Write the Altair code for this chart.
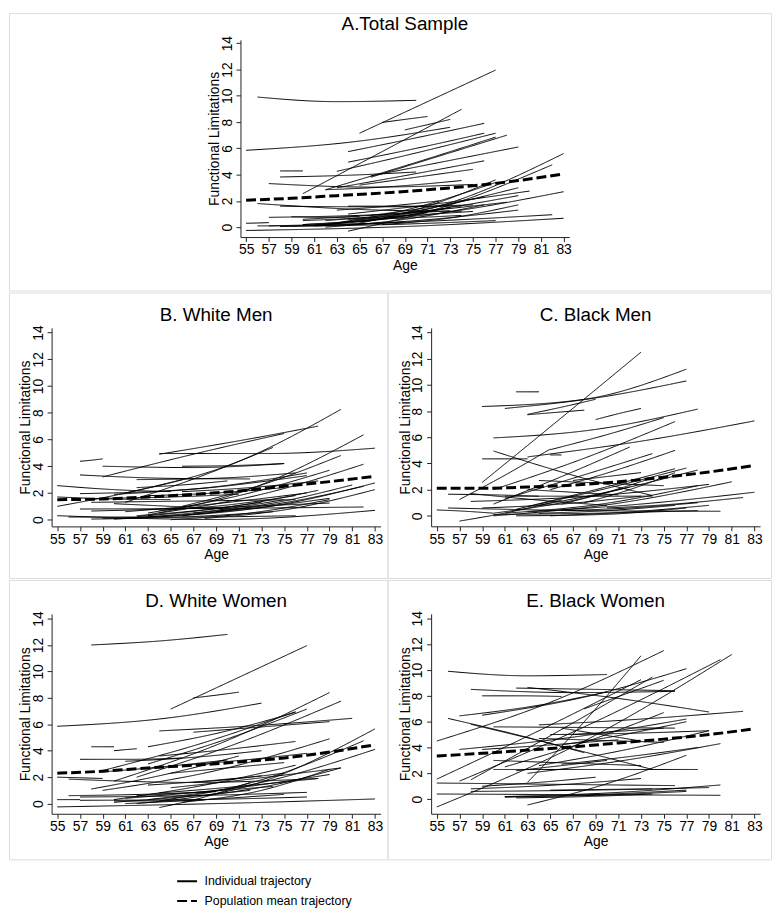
import altair as alt
import pandas as pd

# ---------------- data ----------------
AGE_TICKS = list(range(55, 84, 2))
VALUE_TICKS = list(range(0, 15, 2))
AGE_DOMAIN = [54.5, 83.5]
KINDS = ["Individual trajectory", "Population mean trajectory"]
MEAN_AGES = [55, 59, 63, 67, 71, 75, 79, 83]
TITLE_AGE = 69  # panel titles are centred over the age axis

A_MEAN = [2.05, 2.2, 2.4, 2.6, 2.85, 3.15, 3.55, 4.05]
B_MEAN = [1.5, 1.55, 1.7, 1.9, 2.15, 2.5, 2.85, 3.25]
C_MEAN = [2.1, 2.1, 2.2, 2.35, 2.6, 2.95, 3.35, 3.85]
D_MEAN = [2.3, 2.45, 2.7, 2.9, 3.15, 3.45, 3.9, 4.45]
E_MEAN = [3.35, 3.55, 3.8, 4.05, 4.35, 4.65, 5.0, 5.45]

# individual trajectories: (start age, end age, start value, mid value, end value)
A_TRAJ = [
    (56, 70, 9.9, 9.55, 9.65), (65, 77, 7.15, 9.55, 11.95), (67, 71, 7.97, 8.2, 8.42),
    (60, 74, 2.55, 5.75, 8.97), (69, 73, 7.4, 7.8, 8.2), (55, 73, 5.85, 6.45, 7.6),
    (64, 76, 5.75, 6.8, 7.9), (64, 76, 4.95, 6.0, 7.15), (63, 77, 4.25, 5.65, 7.15),
    (66, 78, 3.8, 5.4, 7.0), (62, 77, 2.85, 4.8, 6.85), (66, 79, 3.9, 5.0, 6.1),
    (63, 76, 3.0, 4.0, 5.05), (65, 75, 3.2, 3.8, 4.4), (58, 60, 4.28, 4.28, 4.28),
    (58, 70, 3.82, 3.95, 4.2), (57, 75, 3.32, 3.05, 3.25), (62, 74, 2.85, 3.1, 3.55),
    (55, 83, -0.25, 0.05, 0.68), (55, 57, 0.3, 0.32, 0.35), (61, 83, 0.15, 1.6, 5.6),
    (64, 82, -0.3, 1.7, 4.75), (60, 83, 0.2, 1.0, 2.7), (64, 80, 1.0, 1.8, 2.75),
    (63, 79, 0.3, 1.4, 3.0), (62, 79, 0.5, 1.2, 2.4), (60, 78, 0.6, 1.1, 1.9),
    (61, 79, 0.1, 0.5, 1.3), (57, 82, 0.1, 0.4, 0.95), (58, 77, 0.05, 0.2, 0.5),
    (60, 75, 0.5, 0.8, 1.2), (56, 74, 1.8, 1.35, 1.2), (57, 73, 0.75, 0.9, 1.25),
    (58, 74, 1.6, 1.55, 1.6), (62, 77, 0.2, 1.4, 3.4), (65, 77, 0.3, 1.6, 3.6),
    (61, 73, 0.15, 0.6, 1.5), (56, 69, 0.1, 0.15, 0.4), (60, 71, 0.2, 0.5, 1.1),
    (65, 73, 0.4, 0.9, 1.5), (62, 76, 0.0, 0.6, 1.7), (66, 76, 0.9, 1.5, 2.3),
    (59, 65, 0.8, 0.75, 0.8), (64, 74, 0.6, 0.7, 0.9), (63, 72, 1.3, 1.6, 2.0),
    (67, 79, 0.2, 0.7, 1.7), (64, 75, 1.6, 1.6, 1.7),
]

B_TRAJ = [
    (61, 80, 2.0, 4.2, 8.25), (59, 75, 3.2, 4.9, 6.45), (64, 78, 4.9, 5.9, 7.0),
    (61, 74, 1.3, 3.2, 5.4), (64, 83, 4.95, 4.95, 5.35), (57, 59, 4.37, 4.45, 4.55),
    (59, 75, 4.0, 3.9, 4.2), (66, 75, 4.0, 4.05, 4.2), (57, 72, 3.35, 3.1, 3.05),
    (55, 65, 2.55, 2.25, 2.1), (62, 82, 0.2, 2.3, 6.35), (66, 80, 1.0, 2.6, 4.8),
    (64, 82, 0.5, 1.9, 4.15), (66, 83, 0.3, 1.1, 2.75), (68, 83, 0.1, 0.8, 2.25),
    (55, 83, 0.3, 0.02, 0.7), (57, 82, 0.8, 0.85, 0.95), (58, 79, 0.65, 0.9, 1.25),
    (56, 76, 0.2, 0.2, 0.3), (60, 79, 0.05, 0.6, 1.6), (55, 65, 1.7, 1.55, 1.5),
    (57, 77, 1.95, 2.3, 3.5), (63, 79, 0.5, 1.8, 3.7), (58, 76, 1.3, 1.4, 1.5),
    (62, 76, 3.0, 3.1, 3.5), (60, 77, 1.9, 2.4, 3.3), (55, 66, 1.0, 1.9, 3.0),
    (61, 75, 0.1, 0.6, 1.5), (63, 78, 0.3, 1.0, 2.2), (65, 79, 0.0, 0.5, 1.5),
    (59, 72, 0.1, 0.3, 0.9), (62, 73, 0.3, 0.7, 1.3), (64, 76, 0.7, 1.1, 1.8),
    (67, 82, 0.5, 1.2, 2.5), (60, 70, 1.2, 1.0, 0.8), (58, 74, 0.05, 0.2, 0.6),
    (61, 77, 0.6, 1.2, 2.0), (63, 75, 1.8, 2.0, 2.4), (66, 78, 2.1, 2.4, 2.9),
    (69, 81, 0.6, 1.4, 2.6), (59, 71, 1.6, 1.7, 1.9), (62, 70, 2.4, 2.6, 2.9),
]

C_TRAJ = [
    (59, 73, 2.55, 7.5, 12.5), (59, 77, 8.35, 8.9, 11.2), (61, 77, 8.2, 9.0, 10.3),
    (62, 64, 9.47, 9.47, 9.47), (63, 68, 7.72, 7.9, 8.07), (63, 69, 7.75, 8.3, 8.9),
    (69, 73, 7.35, 7.8, 8.2), (60, 78, 5.95, 6.6, 8.15), (65, 75, 5.05, 6.2, 7.5),
    (60, 76, 2.0, 4.4, 7.2), (59, 63, 4.35, 4.35, 4.35), (63, 83, 4.5, 5.7, 7.25),
    (60, 74, 4.95, 3.1, 1.55), (65, 66, 4.65, 4.65, 4.65), (60, 72, 0.9, 3.0, 5.25),
    (61, 74, 1.3, 3.0, 4.75), (65, 76, 2.0, 3.4, 5.0), (57, 65, 1.25, 3.1, 5.1),
    (62, 76, 0.5, 2.0, 3.6), (63, 77, 0.7, 2.1, 3.65), (64, 78, 0.8, 2.0, 3.5),
    (55, 60, 0.45, 0.35, 0.2), (56, 80, 0.6, 0.4, 0.35), (57, 66, -0.4, 0.3, 1.2),
    (60, 81, 0.0, 0.9, 2.6), (63, 83, 0.3, 0.9, 1.8), (70, 82, 0.6, 0.9, 1.4),
    (61, 78, 0.2, 0.9, 2.3), (58, 79, 1.1, 1.5, 2.4), (64, 75, 2.7, 2.5, 2.3),
    (61, 74, 1.5, 1.5, 1.5), (60, 78, 0.1, 0.2, 0.4), (62, 77, 0.0, 0.1, 0.6),
    (64, 76, 0.2, 0.4, 0.8), (66, 78, 0.4, 0.6, 1.0), (58, 70, 1.7, 1.2, 0.8),
    (56, 64, 1.65, 1.6, 1.5), (59, 73, 0.6, 0.9, 1.5), (66, 74, 0.9, 1.8, 2.9),
    (68, 76, 1.0, 2.0, 3.3), (60, 72, 0.2, 1.0, 2.2), (65, 79, 0.0, 0.3, 0.8),
    (63, 71, 2.0, 1.8, 1.6), (67, 73, 2.7, 3.0, 3.3),
]

D_TRAJ = [
    (58, 70, 12.0, 12.3, 12.8), (65, 77, 7.15, 9.55, 11.95), (67, 71, 8.0, 8.2, 8.43),
    (55, 73, 5.85, 6.4, 7.6), (64, 81, 5.5, 5.9, 6.45), (67, 79, 5.4, 5.8, 6.2),
    (60, 79, 1.7, 4.6, 8.4), (62, 80, 2.0, 4.6, 7.75), (63, 77, 3.0, 4.9, 7.15),
    (59, 76, 2.5, 4.5, 6.95), (63, 76, 4.3, 5.4, 6.9), (58, 60, 4.3, 4.3, 4.3),
    (60, 62, 4.0, 4.08, 4.15), (57, 66, 3.35, 3.35, 3.45), (55, 59, 2.0, 1.95, 1.9),
    (56, 78, 1.85, 1.6, 1.9), (55, 57, 0.3, 0.3, 0.3), (55, 83, -0.25, 0.0, 0.35),
    (62, 83, 0.0, 1.5, 5.65), (64, 82, 0.2, 1.8, 4.75), (63, 83, 0.3, 1.6, 4.1),
    (59, 79, 1.0, 2.5, 4.9), (65, 80, 1.2, 1.9, 2.7), (61, 79, 0.4, 1.1, 2.2),
    (64, 78, 0.8, 1.3, 1.9), (57, 77, 0.5, 0.6, 0.85), (57, 77, 0.25, 0.3, 0.5),
    (60, 76, 0.3, 1.4, 2.9), (64, 72, -0.3, 0.5, 1.6), (58, 71, 1.1, 2.2, 3.6),
    (60, 72, 0.1, 0.5, 1.0), (61, 75, 0.0, 0.3, 0.7), (62, 74, 0.6, 0.9, 1.3),
    (63, 73, 1.4, 1.7, 2.1), (65, 75, 2.3, 2.7, 3.1), (66, 77, 2.9, 3.3, 3.8),
    (59, 70, 2.4, 2.8, 3.3), (61, 73, 3.2, 3.5, 4.0), (64, 76, 3.6, 4.1, 4.7),
    (56, 69, 0.6, 0.7, 0.9), (66, 79, 0.1, 0.9, 2.6), (68, 80, 0.6, 1.4, 2.7),
    (60, 68, 0.2, 0.2, 0.3), (67, 75, 1.6, 1.9, 2.3),
]

E_TRAJ = [
    (56, 70, 9.9, 9.55, 9.65), (55, 75, 4.5, 7.5, 11.5), (63, 73, 1.3, 6.0, 11.1),
    (58, 74, 1.5, 5.4, 9.45), (55, 73, 1.55, 5.3, 9.25), (55, 81, -0.6, 4.5, 11.2),
    (57, 80, 1.4, 5.8, 10.8), (57, 70, 6.45, 7.2, 8.3), (58, 76, 8.5, 8.25, 8.35),
    (62, 76, 8.6, 8.5, 8.4), (63, 79, 8.65, 7.8, 6.75), (59, 66, 8.0, 8.0, 7.95),
    (56, 68, 6.25, 5.0, 3.6), (58, 74, 5.8, 4.1, 2.3), (59, 77, 6.5, 7.9, 10.1),
    (64, 82, 5.75, 6.2, 6.8), (60, 76, 5.6, 5.55, 5.5), (57, 77, 3.85, 4.8, 6.2),
    (61, 75, 2.5, 4.4, 6.7), (64, 79, 2.6, 3.8, 5.3), (63, 80, 2.0, 3.0, 4.3),
    (66, 78, 2.7, 3.3, 4.0), (55, 76, 1.25, 1.15, 1.05), (58, 73, 0.8, 1.1, 1.6),
    (55, 80, 0.4, 0.35, 0.3), (58, 79, 0.6, 0.7, 0.9), (61, 77, 0.15, 0.35, 0.7),
    (61, 80, 0.2, 0.5, 1.1), (63, 77, -0.45, 1.2, 3.4), (65, 74, 0.7, 0.75, 0.8),
    (59, 71, 3.85, 4.2, 4.6), (64, 75, 4.7, 4.55, 4.4), (68, 75, 7.0, 8.1, 9.2),
    (66, 73, 5.5, 5.0, 4.5), (60, 78, 2.3, 2.3, 2.3), (67, 75, 5.0, 5.25, 5.5),
    (62, 70, 2.2, 2.6, 3.0), (61, 77, 0.2, 0.3, 0.6), (60, 73, 3.0, 2.8, 2.6),
    (65, 79, 5.0, 5.1, 5.3), (62, 74, 0.1, 0.2, 0.4), (66, 77, 4.2, 5.0, 6.0),
    (59, 69, 1.0, 1.3, 1.7),
]

# ---------------- styling ----------------
FONT = "Liberation Sans, Arial, Helvetica, sans-serif"
AXIS_COMMON = dict(
    grid=False, domainColor="#222222", domainWidth=1, tickColor="#222222", tickWidth=1,
    tickSize=4.5, labelFont=FONT, labelFontSize=14, labelColor="black", labelFlush=False,
    labelOverlap=False, labelSeparation=0, titleFont=FONT, titleFontSize=14,
    titleFontWeight="normal", titleColor="black",
)

LEGEND = alt.Legend(
    title=None, orient="none", legendX=168.7, legendY=865, direction="vertical",
    symbolType="stroke", symbolSize=400, symbolStrokeWidth=2, symbolStrokeColor="black",
    labelFont=FONT, labelFontSize=12.5, labelColor="black", labelOffset=6.6, labelLimit=0,
    rowPadding=2, padding=0,
)

# layout per panel (pixel geometry of each boxed cell)
GEOM = {
    "A": dict(w=769, h=280, xr=[233.6, 565.4], yd=[-0.75, 14.25], yr=[226.0, 27.0], tb=17.5),
    "B": dict(w=382, h=288, xr=[43.0, 375.0], yd=[-0.5, 14.35], yr=[236.0, 35.6], tb=28.7),
    "C": dict(w=387, h=288, xr=[44.0, 376.0], yd=[-0.8, 14.35], yr=[235.9, 35.7], tb=28.7),
    "D": dict(w=382, h=282, xr=[43.0, 375.0], yd=[-0.77, 14.35], yr=[236.0, 34.3], tb=27.3),
    "E": dict(w=387, h=282, xr=[44.0, 376.0], yd=[-1.13, 14.35], yr=[236.0, 34.2], tb=27.3),
}


def panel(key, traj, mean_vals, title):
    g = GEOM[key]
    rows = []
    for i, (a0, a1, v0, vm, v1) in enumerate(traj):
        for a, v in ((a0, v0), ((a0 + a1) / 2, vm), (a1, v1)):
            rows.append({"pid": f"{key}{i:02d}", "age": a, "fl": v, "kind": KINDS[0]})
    ind = pd.DataFrame(rows)
    mean = pd.DataFrame({"age": MEAN_AGES, "fl": mean_vals, "kind": KINDS[1]})

    xscale = alt.Scale(domain=AGE_DOMAIN, range=g["xr"], nice=False, zero=False)
    xaxis = alt.Axis(
        values=AGE_TICKS, offset=g["yr"][0] - g["h"], title="Age",
        labelPadding=1.5, titleX=(g["xr"][0] + g["xr"][1]) / 2, titleY=32.5,
        titleBaseline="alphabetic", titleAlign="center", **AXIS_COMMON,
    )
    x = alt.X("age:Q", scale=xscale, axis=xaxis)
    y = alt.Y(
        "fl:Q",
        scale=alt.Scale(domain=g["yd"], range=g["yr"], nice=False, zero=False),
        axis=alt.Axis(
            values=VALUE_TICKS, offset=-g["xr"][0], title="Functional Limitations",
            labelAngle=270, labelAlign="center", labelBaseline="alphabetic", labelPadding=5,
            titleAngle=270, titleX=-22, titleY=(g["yr"][0] + g["yr"][1]) / 2,
            titleBaseline="alphabetic", titleAlign="center", **AXIS_COMMON,
        ),
    )
    dash = alt.StrokeDash(
        "kind:N", scale=alt.Scale(domain=KINDS, range=[[1, 0], [10, 4]]), legend=LEGEND
    )
    ind_layer = alt.Chart(ind).mark_line(color="#000000", interpolate="monotone").encode(
        x=x, y=y, detail="pid:N", strokeDash=dash, strokeWidth=alt.value(1)
    )
    mean_layer = alt.Chart(mean).mark_line(color="black", interpolate="monotone").encode(
        x=x, y=y, strokeDash=dash, strokeWidth=alt.value(3)
    )
    title_layer = alt.Chart(pd.DataFrame({"t": [title]})).mark_text(
        font=FONT, fontSize=19, color="black", align="center", baseline="alphabetic"
    ).encode(
        text="t:N",
        x=alt.XDatum(TITLE_AGE, type="quantitative", scale=xscale, axis=xaxis),
        y=alt.value(g["tb"]),
    )
    return alt.layer(ind_layer, mean_layer, title_layer).properties(width=g["w"], height=g["h"])


pA = panel("A", A_TRAJ, A_MEAN, "A.Total Sample")
pB = panel("B", B_TRAJ, B_MEAN, "B. White Men")
pC = panel("C", C_TRAJ, C_MEAN, "C. Black Men")
pD = panel("D", D_TRAJ, D_MEAN, "D. White Women")
pE = panel("E", E_TRAJ, E_MEAN, "E. Black Women")

legend_box = alt.Chart(pd.DataFrame({"k": [0]})).mark_text().encode(
    text=alt.value("")
).properties(width=769, height=52)

row2 = alt.hconcat(pB, pC, spacing=0, bounds="flush").resolve_scale(x="independent", y="independent")
row3 = alt.hconcat(pD, pE, spacing=0, bounds="flush").resolve_scale(x="independent", y="independent")

chart = alt.vconcat(pA, row2, row3, legend_box, spacing=0).resolve_scale(
    x="independent", y="independent"
).properties(padding=0).configure_view(
    stroke="#8a8a8a", strokeWidth=1.5, fill="white"
).configure(background="white")

chart.save("out.html", embed_options={"renderer": "svg", "actions": False})
